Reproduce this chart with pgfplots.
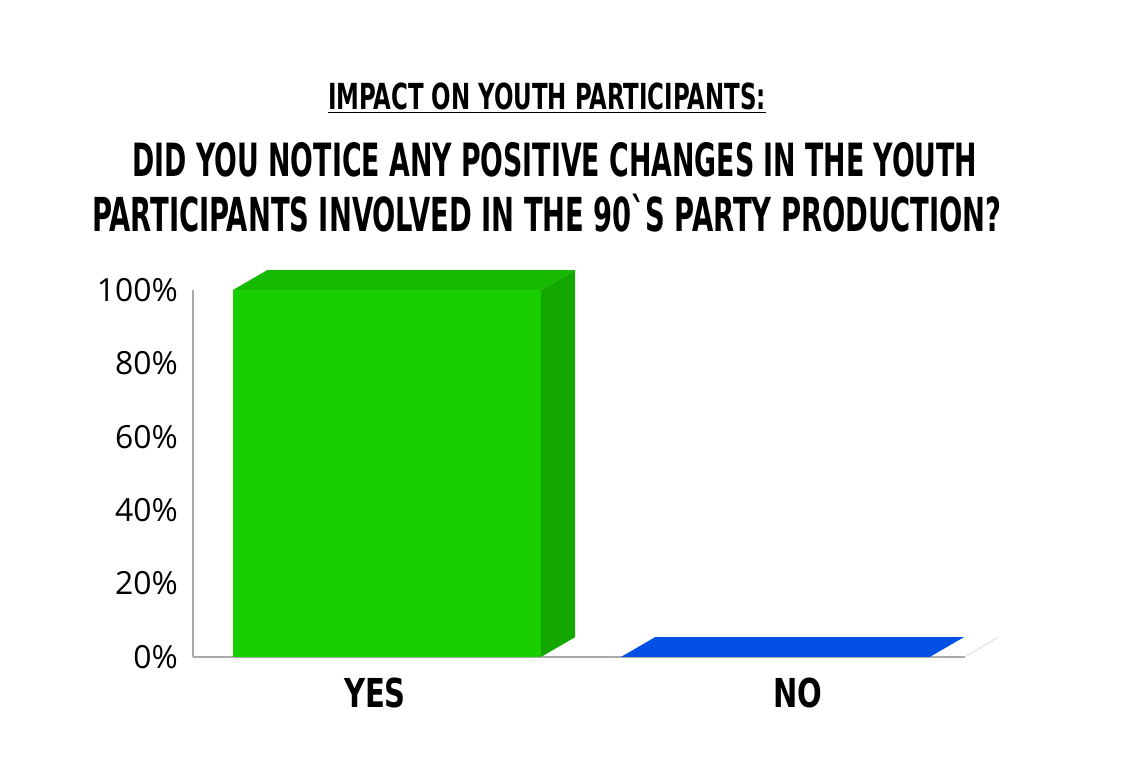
\documentclass[border=0pt]{standalone}
\usepackage{fontspec}
\usepackage{pgfplots}
\pgfplotsset{compat=1.18}
\setmainfont{Open Sans}
\newfontfamily\tickfont{Open Sans}
\newfontfamily\titleA{DejaVu Sans Condensed Bold}[FakeStretch=0.71]
\newfontfamily\titleB{DejaVu Sans Condensed Bold}[FakeStretch=0.65]
\newfontfamily\labfont{DejaVu Sans Condensed Bold}[FakeStretch=0.81]
\definecolor{gfront}{RGB}{26,207,0}
\definecolor{gtop}{RGB}{22,186,0}
\definecolor{gside}{RGB}{18,168,0}
\definecolor{bfront}{RGB}{3,80,228}
\definecolor{axgray}{RGB}{170,170,170}
\begin{document}
\begin{tikzpicture}[x=1bp,y=1bp]
\path[use as bounding box] (0,0) rectangle (1131,760);
\node[anchor=base, inner sep=0pt] at (547,650) {\titleA\fontsize{36}{36}\selectfont\underline{IMPACT ON YOUTH PARTICIPANTS:}};
\node[anchor=base, inner sep=0pt] at (555,583) {\titleB\fontsize{46}{46}\selectfont DID YOU NOTICE ANY POSITIVE CHANGES IN THE YOUTH};
\node[anchor=base, inner sep=0pt] at (547,528) {\titleB\fontsize{47}{47}\selectfont PARTICIPANTS INVOLVED IN THE 90`S PARTY PRODUCTION?};
\begin{axis}[
  at={(193bp,103bp)}, anchor=south west,
  scale only axis, width=772bp, height=367bp,
  xmin=-0.5, xmax=1.49, ymin=0, ymax=100,
  clip=false,
  axis x line=bottom, axis y line=left,
  axis line style={draw=axgray, line width=1.2bp, -},
  major tick length=0pt,
  tick style={draw=none},
  ytick={0,20,40,60,80,100},
  yticklabels={0\%,20\%,40\%,60\%,80\%,100\%},
  yticklabel style={font=\tickfont\fontsize{32}{32}\selectfont, anchor=east, inner sep=0pt, xshift=-15bp},
  xtick={-0.031,1.059},
  xticklabels={YES,NO},
  xticklabel style={font=\labfont\fontsize{40}{40}\selectfont, anchor=north, inner sep=0pt, yshift=-21bp},
]
% YES bar: front face
\addplot[ybar, bar width=0.794, fill=gfront, draw=none] coordinates {(0,100)};
% YES bar: top face
\addplot[fill=gtop, draw=none] coordinates {(-0.397,100) (0.397,100) (0.485,105.4) (-0.309,105.4)} -- cycle;
% YES bar: side face
\addplot[fill=gside, draw=none] coordinates {(0.397,0) (0.485,5.4) (0.485,105.4) (0.397,100)} -- cycle;
% NO bar (value 0): top face
\addplot[fill=bfront, draw=none] coordinates {(0.603,0) (1.399,0) (1.487,5.4) (0.691,5.4)} -- cycle;
% floor edge
\addplot[draw=black!12, line width=1bp] coordinates {(1.49,0) (1.575,5.4)};
\end{axis}
\end{tikzpicture}
\end{document}
